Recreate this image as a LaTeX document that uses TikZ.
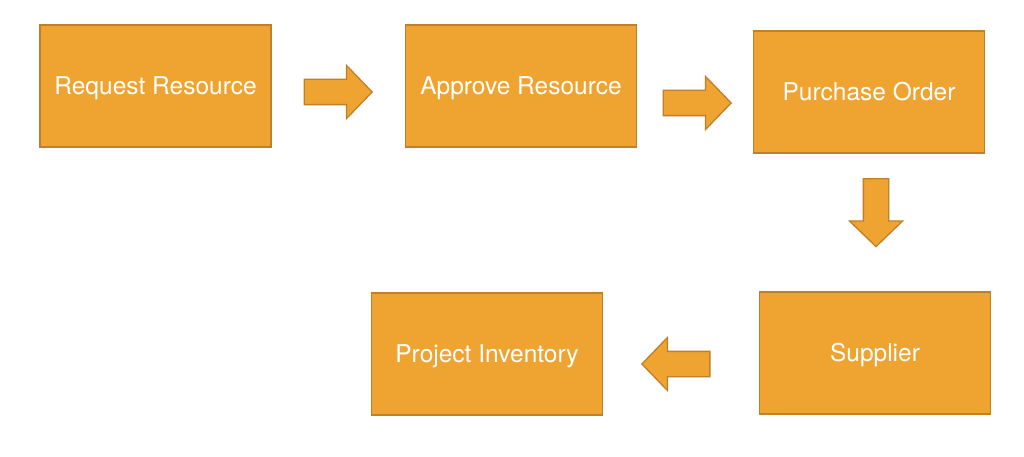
\documentclass[tikz,border=0pt]{standalone}
\usepackage{fontspec}
\setmainfont{TeX Gyre Heros}
\usepackage{tikz}
\usetikzlibrary{shapes.arrows,positioning}
\definecolor{cFill}{HTML}{EFA330}
\definecolor{cLine}{HTML}{BF8029}
\tikzset{
  stage/.style  ={rectangle, draw=cLine, fill=cFill, line width=1.6pt,
                  minimum width=231pt, minimum height=122pt, text=white,
                  font=\fontsize{24.5}{28}\selectfont, inner sep=0pt,
                  text height=17.5pt, text depth=0pt},
  flow/.style   ={single arrow, draw=cLine, fill=cFill, line width=1.3pt,
                  minimum height=68pt, inner xsep=0pt, inner ysep=12pt,
                  single arrow head extend=14pt, single arrow tip angle=92,
                  anchor=tail},
}
\begin{document}
\begin{tikzpicture}[x=1pt,y=-1pt]
  \useasboundingbox (0,0) rectangle (1024,457);
  \node[stage] (req) at (155.5,86) {Request Resource};
  \node[stage] (appr) at (521,86) {Approve Resource};
  \node[stage] (po) at (869,92) {Purchase Order};
  \node[stage] (sup) at (875,353) {Supplier};
  \node[stage] (inv) at (487,354) {Project Inventory};
  % block arrows between the stages
  \node[flow] (a1) at (303.5,92) {};
  \node[flow] (a2) at (662.5,103) {};
  \node[flow,rotate=-90] (a3) at (876,178) {};
  \node[flow,rotate=180] (a4) at (710.5,364) {};
\end{tikzpicture}
\end{document}
